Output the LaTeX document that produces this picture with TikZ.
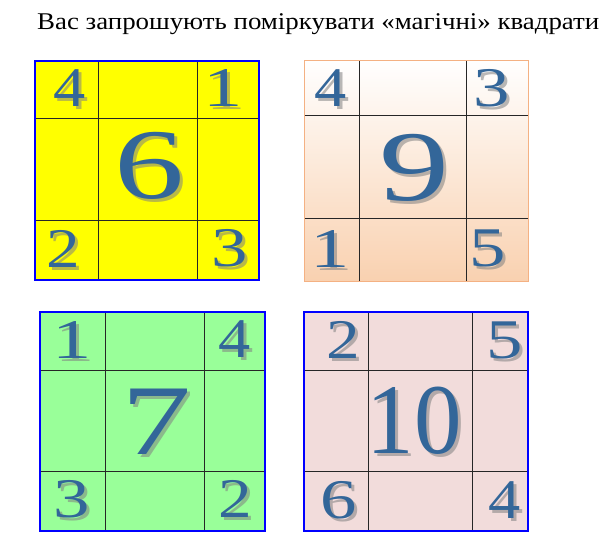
\documentclass[tikz,border=0pt]{standalone}
\usepackage{graphicx}
\usepackage{fontspec}
\setmainfont{Liberation Serif}
\definecolor{numblue}{HTML}{336699}
\definecolor{yellowfill}{HTML}{FFFF00}
\definecolor{greenfill}{HTML}{99FF99}
\definecolor{pinkfill}{HTML}{F2DCDB}
\definecolor{peachfill}{HTML}{F9D1B0}
\definecolor{peachborder}{HTML}{F4B183}
\tikzset{
  gridline/.style={draw=black!85,line width=0.9pt},
  blueborder/.style={draw=blue,line width=1.1pt},
  smallnum/.style={inner sep=0pt,font=\fontsize{56}{56}\selectfont},
  bignum/.style={inner sep=0pt,font=\fontsize{100}{100}\selectfont},
  numshadow/.style={text=gray,text opacity=0.55},
  numface/.style={text=numblue}
}
% #1 name, #2 size style, #3 x, #4 y, #5 text, #6 stretch
\newcommand{\magicnum}[6]{%
  \node[#2,numshadow] at (#3+3,#4+3) {\scalebox{#6}[1]{#5}};
  \node[#2,numface] (#1) at (#3,#4) {\scalebox{#6}[1]{#5}};
}
\begin{document}
\begin{tikzpicture}[x=1pt,y=-1pt]
  \useasboundingbox (0,0) rectangle (608,547);
  \node (title) at (37,29) [anchor=base west,inner sep=0pt,font=\fontsize{24}{24}\selectfont]
    {\resizebox{562pt}{\height}{Вас запрошують поміркувати «магічні» квадрати}};
  %% yellow square
  \fill[yellowfill] (35,61) rectangle (259,280);
  \draw[gridline] (98,61) -- (98,280) (197,61) -- (197,280)
    (35,118) -- (259,118) (35,220) -- (259,220);
  \draw[blueborder] (35,61) rectangle (259,280);
  \magicnum{Y4}{smallnum}{70}{88}{4}{1.15}
  \magicnum{Y1}{smallnum}{223}{88}{1}{1.4}
  \magicnum{Y6}{bignum}{149}{166}{6}{1.4}
  \magicnum{Y2}{smallnum}{63}{249}{2}{1.2}
  \magicnum{Y3}{smallnum}{230}{248}{3}{1.3}
  %% peach square
  \shade[top color=white,bottom color=peachfill] (304,60) rectangle (528,281);
  \draw[gridline] (359,60) -- (359,281) (466,60) -- (466,281)
    (304,115) -- (528,115) (304,218) -- (528,218);
  \draw[draw=peachborder,line width=1pt] (304,60) rectangle (528,281);
  \magicnum{P4}{smallnum}{331}{88}{4}{1.15}
  \magicnum{P3}{smallnum}{492}{88}{3}{1.3}
  \magicnum{P9}{bignum}{414}{168}{9}{1.4}
  \magicnum{P1}{smallnum}{330}{249}{1}{1.4}
  \magicnum{P5}{smallnum}{488}{248}{5}{1.3}
  %% green square
  \fill[greenfill] (40,312) rectangle (265,531);
  \draw[gridline] (105,312) -- (105,531) (204,312) -- (204,531)
    (40,370) -- (265,370) (40,471) -- (265,471);
  \draw[blueborder] (40,312) rectangle (265,531);
  \magicnum{G1}{smallnum}{72}{340}{1}{1.4}
  \magicnum{G4}{smallnum}{235}{339}{4}{1.15}
  \magicnum{G7}{bignum}{156}{422}{7}{1.4}
  \magicnum{G3}{smallnum}{72}{499}{3}{1.3}
  \magicnum{G2}{smallnum}{235}{499}{2}{1.2}
  %% pink square
  \fill[pinkfill] (304,312) rectangle (528,531);
  \draw[gridline] (368,312) -- (368,531) (472,312) -- (472,531)
    (304,370) -- (528,370) (304,471) -- (528,471);
  \draw[blueborder] (304,312) rectangle (528,531);
  \magicnum{R2}{smallnum}{343}{340}{2}{1.2}
  \magicnum{R5}{smallnum}{505}{340}{5}{1.3}
  \magicnum{R10}{bignum}{414}{421}{10}{0.95}
  \magicnum{R6}{smallnum}{339}{500}{6}{1.3}
  \magicnum{R4}{smallnum}{505}{500}{4}{1.15}
  %
\end{tikzpicture}
\end{document}
